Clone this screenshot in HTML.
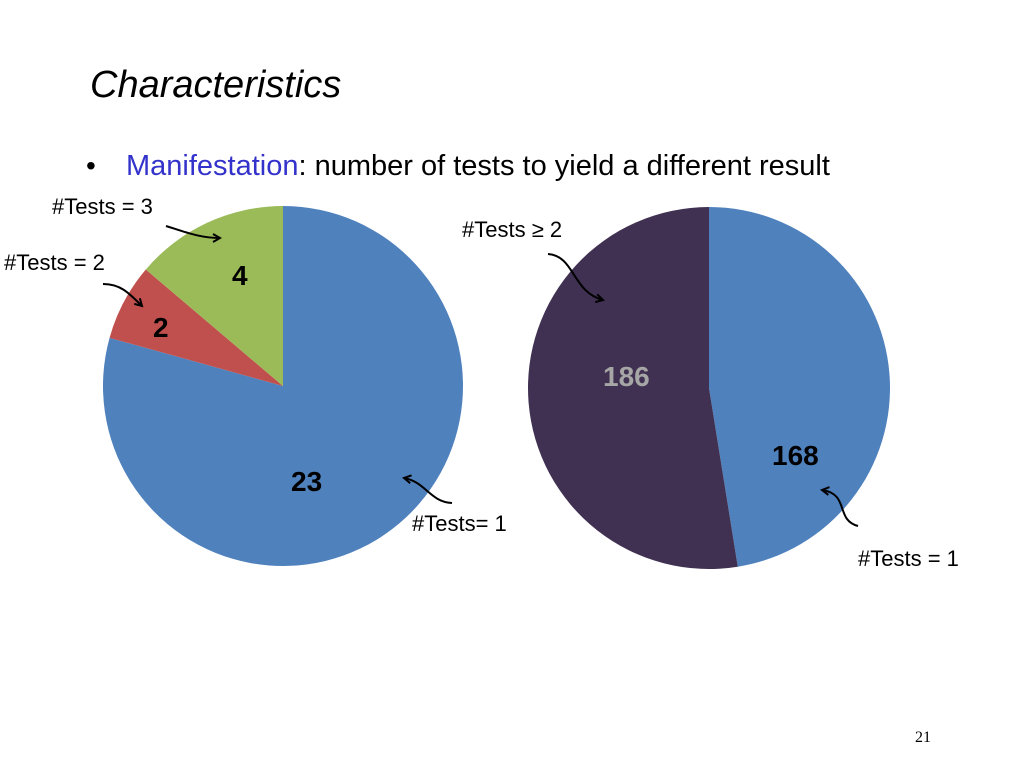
<!DOCTYPE html>
<html><head><meta charset="utf-8"><style>
body{margin:0;width:1024px;height:768px;background:#fff;overflow:hidden;font-family:"Liberation Sans",sans-serif}
</style></head><body>
<svg width="1024" height="768" style="position:absolute;left:0;top:0">
<defs><marker id="ah" markerWidth="10" markerHeight="10" refX="8" refY="5" orient="auto" markerUnits="userSpaceOnUse"><path d="M1,1 L8,5 L1,9" fill="none" stroke="#000" stroke-width="2"/></marker></defs>
<text x="90" y="97" font-size="38" font-style="italic">Characteristics</text>
<text x="86" y="175" font-size="28">•</text>
<text x="126" y="175" font-size="29"><tspan fill="#3333cc">Manifestation</tspan>: number of tests to yield a different result</text>
<g id="pie1"></g>
<g id="pie2"></g>
<g font-size="22">
<text x="52" y="214">#Tests = 3</text>
<text x="4" y="270">#Tests = 2</text>
<text x="412" y="531">#Tests= 1</text>
<text x="462" y="237">#Tests ≥ 2</text>
<text x="858" y="566">#Tests = 1</text>
</g>
<g fill="none" stroke="#000" stroke-width="2" marker-end="url(#ah)">
<path d="M166,226 C185,232 200,238 220,238"/>
<path d="M103,284 C120,284 128,292 142,306"/>
<path d="M452,503 C430,502 426,482 404,478"/>
<path d="M548,254 C575,256 572,292 603,300"/>
<path d="M858,526 C835,520 850,494 822,490"/>
</g>
<g font-weight="bold" font-size="28">
<text x="232" y="285">4</text>
<text x="153" y="337">2</text>
<text x="291" y="491">23</text>
<text x="603" y="386" fill="#a6a6a6">186</text>
<text x="772" y="465">168</text>
</g>
<text x="915" y="742" font-size="16" font-family="Liberation Serif,serif">21</text>
</svg>
<script>
const leftCategories=["#Tests=1","#Tests=2","#Tests=3"];
const leftValues=[23,2,4];
const leftColors=["#4f81bd","#c0504d","#9bbb59"];
const rightCategories=["#Tests=1","#Tests>=2"];
const rightValues=[168,186];
const rightColors=["#4f81bd","#403152"];
function drawPie(g,vals,cols,cx,cy,r,names){
  const tot=vals.reduce((a,b)=>a+b,0);let a=0;
  vals.forEach((v,i)=>{
    const a0=a,a1=a+v/tot*2*Math.PI;a=a1;
    const x0=cx+r*Math.sin(a0),y0=cy-r*Math.cos(a0),x1=cx+r*Math.sin(a1),y1=cy-r*Math.cos(a1);
    const p=document.createElementNS("http://www.w3.org/2000/svg","path");
    p.setAttribute("d",`M${cx},${cy} L${x0},${y0} A${r},${r} 0 ${a1-a0>Math.PI?1:0} 1 ${x1},${y1} Z`);
    p.setAttribute("fill",cols[i]);
    
    
    g.appendChild(p);
  });
}
drawPie(document.getElementById("pie1"),leftValues,leftColors,283,386,180,leftCategories);
drawPie(document.getElementById("pie2"),rightValues,rightColors,709,388,181,rightCategories);
</script>
</body></html>
